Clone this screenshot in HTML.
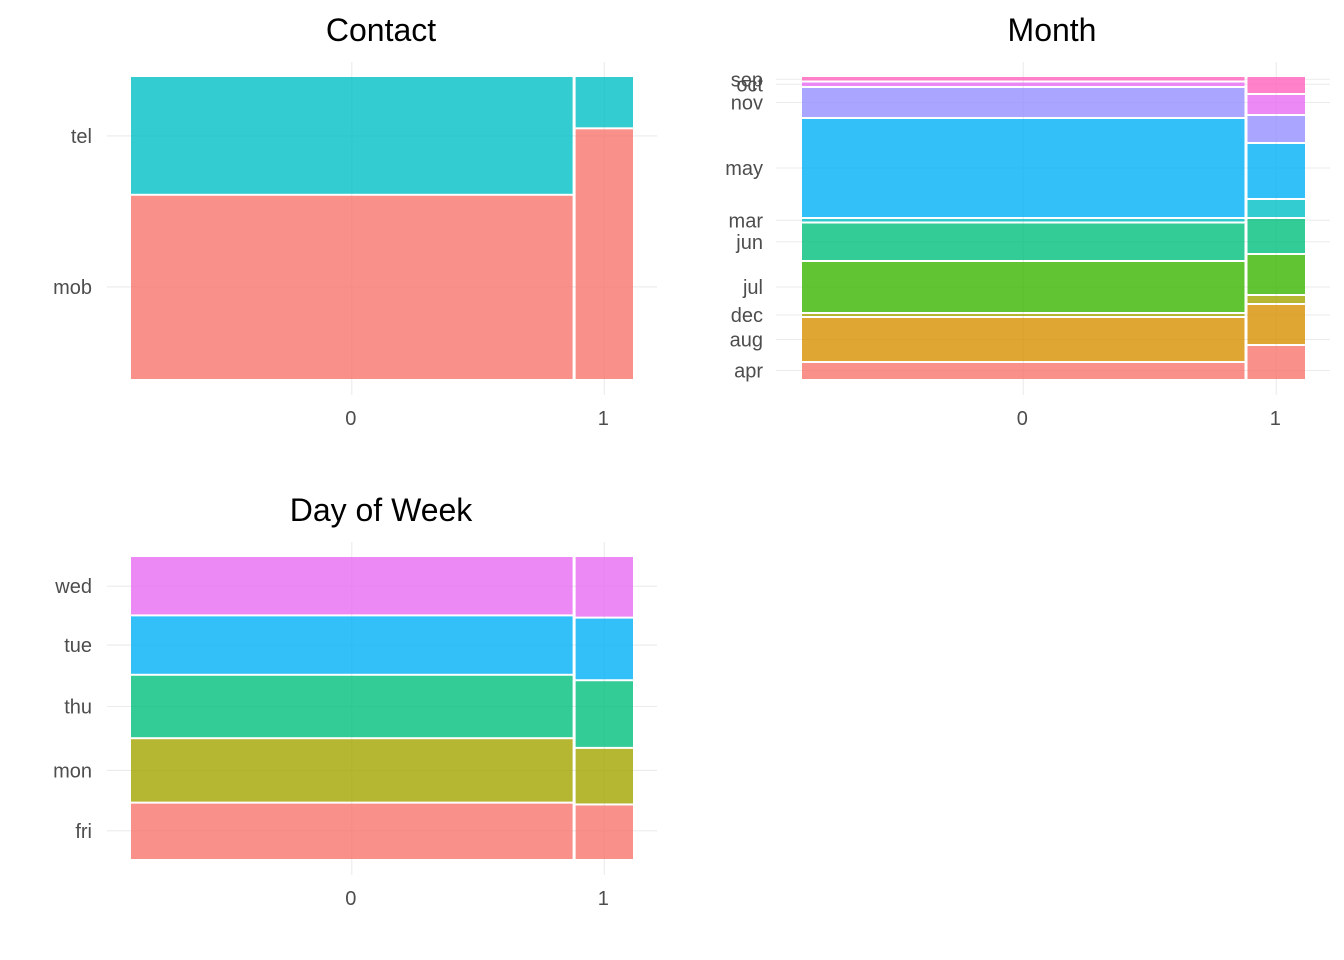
<!DOCTYPE html>
<html><head><meta charset="utf-8"><style>
html,body{margin:0;padding:0;background:#fff;width:1344px;height:960px;overflow:hidden}
svg text{font-family:"Liberation Sans",Arial,sans-serif}
</style></head><body>
<svg id="chart" width="1344" height="960" xmlns="http://www.w3.org/2000/svg"></svg>
<script>
// ---- data ----
const xCategories = ["0", "1"];
// column widths (share of observations per x category)
const contactColShare = [0.885, 0.115];
const monthColShare = [0.885, 0.115];
const dayColShare = [0.885, 0.115];
// contact (bottom to top)
const contactLevels = ["mob", "tel"];
const contactCol0 = [61, 39];
const contactCol1 = [83, 17];
// month (bottom to top)
const monthLevels = ["apr", "aug", "dec", "jul", "jun", "mar", "may", "nov", "oct", "sep"];
const monthCol0 = [17, 45, 4, 52, 38.5, 4.5, 100, 31, 5.5, 4.5];
const monthCol1 = [34, 41, 9, 41, 36, 19, 56, 28, 21, 17];
// day of week (bottom to top)
const dayLevels = ["fri", "mon", "thu", "tue", "wed"];
const dayCol0 = [56, 64, 63, 59, 58];
const dayCol1 = [54, 56, 67, 62, 60];

const contactColors = ["#F8766D", "#00BFC4"];
const monthColors = ["#F8766D", "#D89000", "#A3A500", "#39B600", "#00BF7D", "#00BFC4", "#00B0F6", "#9590FF", "#E76BF3", "#FF62BC"];
const dayColors = ["#F8766D", "#A3A500", "#00BF7D", "#00B0F6", "#E76BF3"];

const NS = "http://www.w3.org/2000/svg";
const svg = document.getElementById("chart");
function mk(tag, attrs, parent) {
  const e = document.createElementNS(NS, tag);
  for (const k in attrs) e.setAttribute(k, attrs[k]);
  (parent || svg).appendChild(e);
  return e;
}

function panel(p) {
  const g = mk("g", {});
  
  
  const colGap = 3, rowGap = 2;
  const avail = (p.x1 - p.x0) - colGap * (p.shares.length - 1);
  const cols = [];
  let cx = p.x0;
  p.shares.forEach(s => { const w = s * avail; cols.push([cx, cx + w]); cx += w + colGap; });
  function rows(vals) {
    const tot = vals.reduce((a, b) => a + b, 0);
    const H = p.y1 - p.y0;
    const out = []; let acc = 0;
    vals.forEach(v => { const yb = p.y1 - acc / tot * H; acc += v; const yt = p.y1 - acc / tot * H; out.push([yt, yb]); });
    return out;
  }
  const r0 = rows(p.cols[0]);
  const ticksY = r0.map(r => (r[0] + r[1]) / 2);
  ticksY.forEach((y, i) => {
    const l = mk("line", {x1: p.gx0, x2: p.gx1, y1: y, y2: y, stroke: "#ebebeb", "stroke-width": 1.1}, g);
    
    
  });
  const ticksX = cols.map(c => (c[0] + c[1]) / 2);
  ticksX.forEach(x => {
    const l = mk("line", {x1: x, x2: x, y1: p.y0 - 15, y2: p.y1 + 16, stroke: "#ebebeb", "stroke-width": 1.1}, g);
    
    
  });
  p.cols.forEach((vals, ci) => {
    const rr = rows(vals);
    rr.forEach((r, li) => {
      const x = cols[ci][0], w = cols[ci][1] - cols[ci][0];
      const yt = r[0] + (li === vals.length - 1 ? 0 : rowGap / 2);
      const yb = r[1] - (li === 0 ? 0 : rowGap / 2);
      const t = mk("rect", {x: x, y: yt, width: w, height: Math.max(0.5, yb - yt), fill: p.colors[li], "fill-opacity": 0.8}, g);
      
      
    });
  });
  ticksY.forEach((y, i) => {
    const t = mk("text", {x: p.labX, y: y + 7, "text-anchor": "end", "font-size": 20, fill: "#4d4d4d"}, g);
    t.textContent = p.levels[i];
    
    
  });
  ticksX.forEach((x, i) => {
    const t = mk("text", {x: x - 1, y: p.y1 + 46, "text-anchor": "middle", "font-size": 20, fill: "#4d4d4d"}, g);
    t.textContent = xCategories[i];
    
    
  });
  const ti = mk("text", {x: p.titleX, y: p.y0 - 36, "text-anchor": "middle", "font-size": 32, fill: "#000"}, g);
  ti.textContent = p.title;
  
  
}

panel({name: "contact-panel", title: "Contact", titleX: 381, x0: 131, x1: 633, y0: 77, y1: 379, gx0: 107, gx1: 657, labX: 92,
  shares: contactColShare, cols: [contactCol0, contactCol1], levels: contactLevels, colors: contactColors});
panel({name: "month-panel", title: "Month", titleX: 1052, x0: 802, x1: 1305, y0: 77, y1: 379, gx0: 776, gx1: 1330, labX: 763,
  shares: monthColShare, cols: [monthCol0, monthCol1], levels: monthLevels, colors: monthColors});
panel({name: "day-of-week-panel", title: "Day of Week", titleX: 381, x0: 131, x1: 633, y0: 557, y1: 859, gx0: 107, gx1: 657, labX: 92,
  shares: dayColShare, cols: [dayCol0, dayCol1], levels: dayLevels, colors: dayColors});
</script>
</body></html>
